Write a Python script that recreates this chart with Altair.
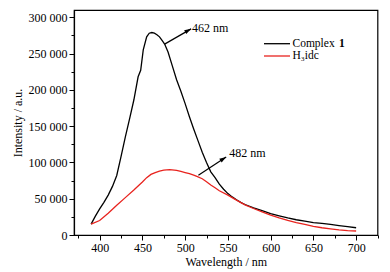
import altair as alt
import pandas as pd

# Complex 1 emission spectrum
wl_black = [390, 395, 400, 405, 410, 415, 420, 425, 430, 435, 440, 445, 448, 451, 455, 458, 461, 464,
            467, 470, 473, 476, 480, 485, 490, 495, 500, 505, 510, 515, 520, 525, 530, 535, 540, 545,
            550, 555, 560, 565, 570, 580, 590, 600, 610, 620, 630, 640, 650, 660, 670, 680, 690, 700]
int_black = [15000, 26000, 36000, 45000, 55000, 67000, 82000, 108000, 135000, 160000, 186000, 218000,
             227000, 255000, 273000, 278000, 279000, 278000, 276000, 273000, 268000, 263000, 252000,
             233000, 214000, 198000, 181000, 163000, 146000, 130000, 114000, 100000, 87000, 79000,
             70000, 63000, 57000, 52500, 48500, 45000, 42000, 37500, 33500, 29500, 26500, 23500, 21000,
             19000, 17000, 16000, 14500, 13000, 11500, 10000]

# H3idc emission spectrum
wl_red = [390, 400, 410, 420, 430, 440, 450, 455, 460, 465, 470, 475, 482, 490, 495, 500, 505, 510, 513,
          520, 525, 530, 535, 540, 550, 555, 560, 570, 580, 590, 600, 610, 620, 630, 640, 650, 660, 670,
          680, 690, 700]
int_red = [15000, 20000, 30000, 41000, 51500, 62000, 73000, 79000, 83500, 86000, 88000, 89500, 90000,
           89000, 87500, 86000, 84500, 82500, 81000, 77500, 73500, 69000, 65000, 61000, 55000, 51500,
           48000, 41500, 36500, 32000, 27500, 23500, 20000, 17000, 14500, 12000, 10000, 8500, 7000,
           6000, 5500]

series_names = ["Complex 1", "H\u2083idc"]

# annotations: arrow start/end (data coords) and label
ann_text = ["462 nm", "482 nm"]
ann_x0 = [476, 515.5]
ann_y0 = [263000, 82400]
ann_x1 = [507, 548]
ann_y1 = [284000, 107600]
ann_tx = [508, 551.5]
ann_ty = [285800, 112300]
ann_angle = [61, 57]

x_ticks = list(range(375, 726, 25))
y_ticks = list(range(0, 300001, 25000))

df_b = pd.DataFrame({"wl": wl_black, "I": int_black})
df_r = pd.DataFrame({"wl": wl_red, "I": int_red})
df_a = pd.DataFrame({"wl": ann_x0, "I": ann_y0, "wl2": ann_x1, "I2": ann_y1,
                     "tx": ann_tx, "ty": ann_ty, "t": ann_text, "ang": ann_angle})

FONT = "Liberation Serif"

xs = alt.Scale(domain=[370, 725], nice=False, zero=False)
ys = alt.Scale(domain=[0, 310000], nice=False, zero=True)

xaxis = alt.Axis(
    title="Wavelength / nm", values=x_ticks,
    labelExpr="datum.value % 50 == 0 ? datum.label : ''",
    tickSize={"condition": {"test": "datum.value % 50 != 0", "value": 3}, "value": 5},
    grid=False, labelFlush=False, labelPadding=2, titlePadding=3,
)
yaxis = alt.Axis(
    title="Intensity / a.u.", values=y_ticks,
    labelExpr="datum.value % 50000 == 0 ? replace(format(datum.value, ','), ',', ' ') : ''",
    tickSize={"condition": {"test": "datum.value % 50000 != 0", "value": 3}, "value": 5},
    grid=False, labelFlush=False, labelPadding=2, titlePadding=4,
)

X = alt.X("wl:Q", scale=xs, axis=xaxis)
Y = alt.Y("I:Q", scale=ys, axis=yaxis)

black = alt.Chart(df_b).mark_line(color="#000000", strokeWidth=1.3).encode(x=X, y=Y)
red = alt.Chart(df_r).mark_line(color="#e8231e", strokeWidth=1.3).encode(x=X, y=Y)

arrows = alt.Chart(df_a).mark_rule(color="#000000", strokeWidth=1.2).encode(
    x=X, y=Y, x2="wl2:Q", y2="I2:Q")
heads = alt.Chart(df_a).mark_point(
    shape="M0,0L-0.55,1.7L0.55,1.7Z", size=64, filled=True, color="#000000", opacity=1
).encode(
    x=alt.X("wl2:Q", scale=xs, axis=xaxis),
    y=alt.Y("I2:Q", scale=ys, axis=yaxis),
    angle=alt.Angle("ang:Q", scale=None),
)
labels = alt.Chart(df_a).mark_text(
    align="left", baseline="middle", font=FONT, fontSize=12, color="#000000"
).encode(
    x=alt.X("tx:Q", scale=xs, axis=xaxis),
    y=alt.Y("ty:Q", scale=ys, axis=yaxis),
    text="t:N",
)

# manual legend
LFS = 11.5
leg_df = pd.DataFrame({"name": series_names, "col": ["#000000", "#e8231e"], "row": [0, 1]})
leg_lines_b = alt.Chart(leg_df.iloc[[0]]).mark_rule(color="#000000", strokeWidth=1.3).encode(
    x=alt.value(190), x2=alt.value(216), y=alt.value(33.7))
leg_lines_r = alt.Chart(leg_df.iloc[[1]]).mark_rule(color="#e8231e", strokeWidth=1.3).encode(
    x=alt.value(190), x2=alt.value(216), y=alt.value(46))
leg_t1 = alt.Chart(leg_df.iloc[[0]]).mark_text(
    align="left", baseline="middle", font=FONT, fontSize=LFS, color="#000000").encode(
    x=alt.value(218.5), y=alt.value(33.7), text=alt.value("Complex"))
leg_t1b = alt.Chart(leg_df.iloc[[0]]).mark_text(
    align="left", baseline="middle", font=FONT, fontSize=LFS, fontWeight="bold", color="#000000").encode(
    x=alt.value(265), y=alt.value(33.7), text=alt.value("1"))
leg_t2 = alt.Chart(leg_df.iloc[[1]]).mark_text(
    align="left", baseline="middle", font=FONT, fontSize=LFS, color="#000000").encode(
    x=alt.value(218.5), y=alt.value(46), text=alt.value(series_names[1]))

chart = alt.layer(
    black, red, arrows, heads, labels, leg_lines_b, leg_lines_r, leg_t1, leg_t1b, leg_t2
).properties(
    width=303.5, height=225,
    autosize=alt.AutoSizeParams(type="none"),
    padding={"left": 74, "top": 10, "right": 12, "bottom": 37},
    background="#ffffff",
).configure_view(
    stroke="#000000", strokeWidth=1.2
).configure_axis(
    domainColor="#000000", domainWidth=1.2, tickColor="#000000", tickWidth=1,
    labelFont=FONT, labelFontSize=12, labelColor="#000000",
    titleFont=FONT, titleFontSize=12, titleFontWeight="normal", titleColor="#000000",
)

chart.save("out.html", embed_options={"renderer": "svg", "actions": False})
